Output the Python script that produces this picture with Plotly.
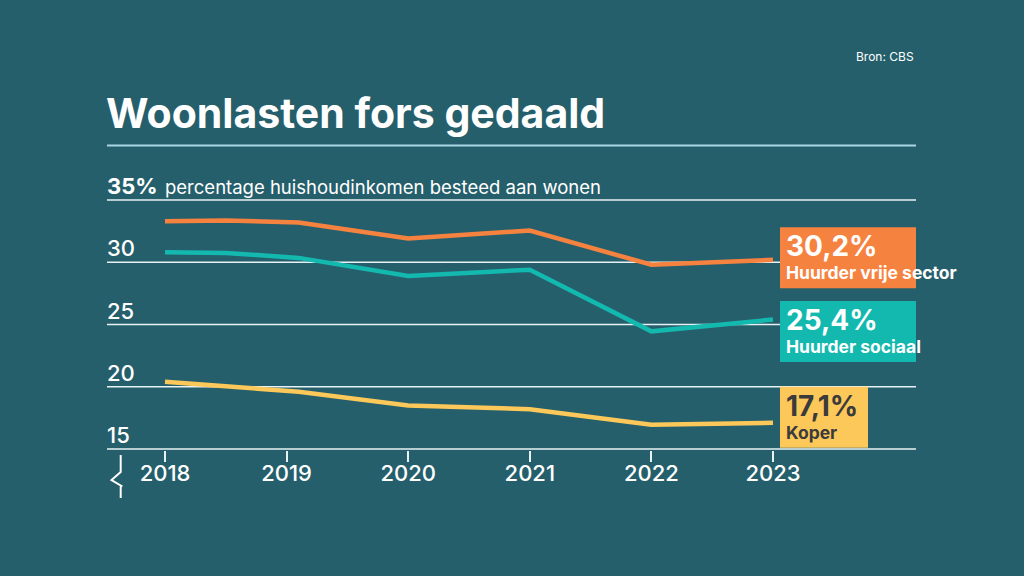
import plotly.graph_objects as go

# ---- data ----
years = [2018, 2018.5, 2019.1, 2020, 2021, 2022, 2023]
vrije_sector = [33.3, 33.35, 33.2, 31.9, 32.55, 29.8, 30.2]
sociaal = [30.8, 30.75, 30.35, 28.9, 29.4, 24.45, 25.4]
koper = [20.4, 20.05, 19.6, 18.5, 18.2, 16.95, 17.1]

tick_years = [2018, 2019, 2020, 2021, 2022, 2023]
y_ticks = [15, 20, 25, 30, 35]
y_ticktext = ["15", "20", "25", "30", "<b>35%</b>"]

series_names = ["Huurder vrije sector", "Huurder sociaal", "Koper"]
end_labels = ["30,2%", "25,4%", "17,1%"]

BG = "#265f6c"
ORANGE = "#f6823f"
TEAL = "#13b8ae"
YELLOW = "#fbc859"
WHITE = "#ffffff"
GRID = "#e8f2f4"
FONT = "Inter"

fig = go.Figure()

# grid lines at the y ticks (drawn below the data)
for v in y_ticks:
    fig.add_shape(type="line", xref="paper", yref="y", x0=0, x1=1, y0=v, y1=v,
                  line=dict(color=GRID, width=1.5), layer="below")

for vals, col, name in zip([vrije_sector, sociaal, koper], [ORANGE, TEAL, YELLOW], series_names):
    fig.add_trace(go.Scatter(x=years, y=vals, mode="lines", name=name,
                             line=dict(color=col, width=4.5), hoverinfo="skip"))

fig.update_layout(
    width=1024, height=576,
    paper_bgcolor=BG, plot_bgcolor=BG,
    margin=dict(l=107, r=108, t=199, b=126),
    showlegend=False,
    font=dict(family=FONT, color=WHITE),
)
fig.update_xaxes(
    range=[2017.523, 2024.176], tickvals=tick_years, ticktext=[str(y) for y in tick_years],
    showgrid=False, zeroline=False, showline=False,
    ticks="outside", ticklen=11, tickwidth=1.5, tickcolor=GRID,
    tickfont=dict(family=FONT, size=22, color=WHITE, weight=500),
    ticklabelstandoff=-7,
)
fig.update_yaxes(
    range=[14.92, 35.08], tickvals=y_ticks,
    showgrid=False, zeroline=False, showline=False,
    ticks="", showticklabels=False,
)

# y tick labels above grid lines
for v, t in zip(y_ticks, y_ticktext):
    fig.add_annotation(text=t, xref="paper", yref="y", x=0, y=v, xanchor="left",
                       yanchor="bottom", xshift=-2, yshift=-1, showarrow=False,
                       font=dict(family=FONT, size=22, color=WHITE, weight=500))

# title, source, subtitle
fig.add_annotation(text="<b>Woonlasten fors gedaald</b>", xref="paper", yref="paper",
                   x=0, y=1.341, xanchor="left", yanchor="middle", xshift=-3, showarrow=False,
                   font=dict(family=FONT, size=41, color=WHITE))
fig.add_annotation(text="Bron: CBS", xref="paper", yref="paper", x=1, y=1.566,
                   xanchor="right", yanchor="middle", showarrow=False,
                   font=dict(family=FONT, size=12, color=WHITE))
fig.add_annotation(text="percentage huishoudinkomen besteed aan wonen", xref="x", yref="y",
                   x=tick_years[0], y=y_ticks[-1], xanchor="left", yanchor="bottom",
                   xshift=-2, yshift=0, showarrow=False,
                   font=dict(family=FONT, size=18.5, color=WHITE))
fig.add_shape(type="line", xref="paper", yref="paper", x0=0, x1=1, y0=1.2129, y1=1.2129,
              line=dict(color="#a9d6e2", width=2))

# axis break symbol
fig.add_shape(type="path", xref="paper", yref="paper", xsizemode="pixel", ysizemode="pixel",
              xanchor=0, yanchor=0,
              path="M 13.7 -5 L 13.7 -22 L 4.5 -30 L 14.5 -36 L 13.7 -37 L 13.7 -48",
              line=dict(color=WHITE, width=2))

# end labels
boxes = [
    (ORANGE, WHITE, 198, 32.5, -28.5),
    (TEAL, WHITE, 160, 18.4, -42.6),
    (YELLOW, "#3b3b3b", 88, 36, -25),
]
last_vals = [vrije_sector[-1], sociaal[-1], koper[-1]]
for (col, tcol, w, top, bot), val, big, small in zip(boxes, last_vals, end_labels, series_names):
    fig.add_shape(type="rect", xref="x", yref="y", xsizemode="pixel", ysizemode="pixel",
                  xanchor=years[-1], yanchor=val, x0=7, x1=7 + w, y0=bot, y1=top,
                  fillcolor=col, line=dict(width=0), layer="above")
    fig.add_annotation(text="<b>" + big + "</b>", xref="x", yref="y", x=years[-1], y=val,
                       xanchor="left", yanchor="middle", xshift=11, yshift=top - 19,
                       showarrow=False, font=dict(family=FONT, size=28, color=tcol))
    fig.add_annotation(text="<b>" + small + "</b>", xref="x", yref="y", x=years[-1], y=val,
                       xanchor="left", yanchor="middle", xshift=11, yshift=top - 45.5,
                       showarrow=False, font=dict(family=FONT, size=17.5, color=tcol))

fig.write_html("out.html", config={"displayModeBar": False},
               post_script="document.body.style.margin='0';document.body.style.background='%s';" % BG)
